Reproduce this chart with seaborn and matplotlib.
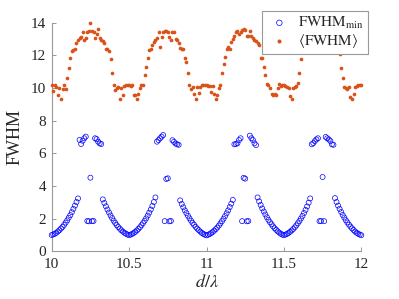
import numpy as np
import pandas as pd
import seaborn as sns
import matplotlib.pyplot as plt

# sampling grid of d/lambda (step 0.01)
d_lambda = np.linspace(10, 12, 201)

# FWHM_min (blue open circles)
fwhm_min = [
    # 10.00 - 10.50
    1.00, 1.04, 1.08, 1.14, 1.22, 1.30, 1.40, 1.50, 1.62, 1.76, 1.90, 2.06, 2.22, 2.40, 2.60, 2.80, 3.02, 3.24,
    6.82, 6.57, 6.77, 6.92, 7.02, 1.86, 1.84, 4.51, 1.85, 1.86, 6.92, 6.87, 6.71, 6.61, 6.57,
    3.18, 2.96, 2.76, 2.56, 2.38, 2.20, 2.04, 1.88, 1.74, 1.61, 1.49, 1.39, 1.29, 1.21, 1.14, 1.08, 1.03,
    0.99,
    # 10.51 - 11.00
    1.03, 1.07, 1.13, 1.20, 1.28, 1.38, 1.48, 1.60, 1.73, 1.87, 2.02, 2.19, 2.37, 2.56, 2.78, 3.02, 3.30,
    6.71, 6.81, 6.92, 7.02, 7.12, 1.85, 4.43, 4.47, 1.84, 1.86, 6.80, 6.70, 6.60, 6.55, 6.52,
    3.12, 2.90, 2.70, 2.51, 2.34, 2.18, 2.02, 1.88, 1.74, 1.62, 1.50, 1.39, 1.30, 1.21, 1.13, 1.07, 1.02,
    0.98,
    # 11.01 - 11.50
    1.02, 1.06, 1.12, 1.19, 1.27, 1.36, 1.46, 1.58, 1.71, 1.85, 2.00, 2.16, 2.33, 2.51, 2.71, 2.92, 3.15,
    6.55, 6.57, 6.61, 6.81, 6.92, 1.85, 4.50, 4.45, 1.84, 1.86, 7.08, 6.92, 6.81, 6.61, 6.50,
    3.30, 3.06, 2.84, 2.63, 2.44, 2.26, 2.09, 1.93, 1.79, 1.66, 1.53, 1.42, 1.32, 1.23, 1.15, 1.08, 1.03,
    0.99,
    # 11.51 - 12.00
    1.03, 1.07, 1.13, 1.20, 1.28, 1.37, 1.47, 1.59, 1.72, 1.86, 2.01, 2.17, 2.35, 2.54, 2.75, 2.98, 3.24,
    6.55, 6.62, 6.75, 6.85, 6.92, 1.85, 1.86, 4.55, 1.85, 7.00, 6.92, 6.85, 6.75, 6.55, 6.52,
    3.26, 3.02, 2.80, 2.60, 2.41, 2.23, 2.07, 1.91, 1.77, 1.64, 1.52, 1.41, 1.31, 1.22, 1.14, 1.08, 1.03,
    0.99,
]

# <FWHM> (orange dots)
fwhm_mean = [
    # 10.00 - 10.50
    10.2, 9.8, 10.15, 10.05, 9.55, 10.0, 9.35, 9.95, 10.2, 9.95,
    10.6, 11.2, 11.8, 12.25, 12.3, 12.4, 12.75, 12.9, 13.05, 13.1,
    13.45, 12.9, 13.05, 13.45, 13.5, 13.95, 13.5, 13.45, 13.05, 13.3,
    13.6, 13.05, 12.95, 12.85, 12.75, 12.35, 12.4, 12.25, 11.75, 10.9,
    10.2, 9.9, 10.0, 10.05, 9.35, 10.0, 9.55, 10.1, 10.2, 10.2,
    10.2,
    # 10.51 - 11.00
    10.1, 10.15, 9.55, 9.55, 9.35, 9.6, 10.0, 10.2, 10.2,
    10.8, 11.25, 11.85, 12.3, 12.4, 12.65, 12.8, 12.9, 13.05, 13.45,
    12.5, 13.1, 13.4, 13.5, 13.5, 13.4, 13.1, 12.95, 13.4, 13.4,
    13.0, 12.9, 12.75, 12.45, 12.4, 12.35, 11.8, 11.6, 10.9, 10.2,
    9.95, 10.05, 9.65, 9.35, 10.05, 9.7, 10.05, 10.2, 10.2, 10.15,
    10.2,
    # 11.01 - 11.50
    10.1, 10.1, 9.75, 10.1, 9.6, 9.35, 9.55, 10.0, 10.2,
    10.9, 11.45, 11.9, 12.4, 12.5, 12.35, 12.8, 13.0, 13.15, 13.45,
    13.5, 13.3, 13.45, 13.55, 13.6, 13.55, 13.15, 13.2, 13.5, 13.15,
    13.05, 12.95, 12.85, 12.75, 12.6, 11.85, 11.85, 11.25, 10.8,
    10.25, 10.2, 10.0, 9.6, 9.55, 9.6, 9.57, 10.0, 10.25, 10.1, 10.15, 10.2,
    # 11.51 - 12.00
    10.1, 10.05, 10.0, 9.5, 9.35, 10.0, 10.05, 10.1, 10.3,
    10.9, 11.75, 12.3, 12.6, 12.85, 13.0, 13.1, 13.4, 13.5, 13.3,
    13.55, 13.45, 13.6, 13.4, 13.5, 13.8, 13.4, 13.3, 13.1, 13.35,
    13.0, 12.9, 12.8, 12.7, 12.45, 12.4, 12.1, 11.24, 10.63, 10.05,
    10.0, 9.95, 10.05, 9.45, 9.3, 9.6, 10.05, 10.1, 10.15, 10.2, 10.2,
]

x_ticks = [10, 10.5, 11, 11.5, 12]
x_tick_labels = ["10", "10.5", "11", "11.5", "12"]
y_ticks = [0, 2, 4, 6, 8, 10, 12, 14]

df = pd.DataFrame({"d": d_lambda, "fmin": fwhm_min, "fmean": fwhm_mean})

sns.set_style("ticks")
plt.rcParams["font.family"] = ["Liberation Serif", "DejaVu Serif"]
plt.rcParams["mathtext.fontset"] = "stix"

fig = plt.figure(figsize=(3.99, 2.99), dpi=100)
ax = fig.add_axes([0.1296, 0.1592, 0.7759, 0.7655])

sns.scatterplot(data=df, x="d", y="fmin", ax=ax, marker="o", s=13,
                facecolors="none", edgecolor="#0000ff", linewidth=0.5,
                label=r"$\mathrm{FWHM}_{\mathrm{min}}$", clip_on=False, zorder=3)
sns.scatterplot(data=df, x="d", y="fmean", ax=ax, marker="o", s=7,
                color="#D95319", linewidth=0,
                label=r"$\langle\mathrm{FWHM}\rangle$", clip_on=False, zorder=3)

ax.set_xlim(10, 12)
ax.set_ylim(0, 14)
ax.set_xticks(x_ticks)
ax.set_xticklabels(x_tick_labels)
ax.set_yticks(y_ticks)
ax.tick_params(direction="in", length=3, width=0.6, color="#888888",
               labelsize=11, labelcolor="#262626")
ax.tick_params(axis="x", pad=5)
ax.tick_params(axis="y", pad=4)
sns.despine(ax=ax)
for side in ["left", "bottom"]:
    ax.spines[side].set_color("#999999")
    ax.spines[side].set_linewidth(0.8)

ax.set_xlabel(r"$d/\lambda$", fontsize=13, color="#262626", labelpad=2)
ax.set_ylabel("FWHM", fontsize=13, color="#262626", labelpad=5)

leg = ax.legend(loc="upper right", bbox_to_anchor=(367.7 / 399, 1 - 11 / 299),
                bbox_transform=fig.transFigure, fancybox=False, framealpha=1,
                edgecolor="#999999", fontsize=11, handletextpad=0.3,
                borderpad=0.25, labelspacing=0.1, handlelength=1.8,
                borderaxespad=0, markerscale=1.1)
leg.get_frame().set_linewidth(0.8)
leg.set_zorder(10)

fig.savefig("out.png", dpi=100)
